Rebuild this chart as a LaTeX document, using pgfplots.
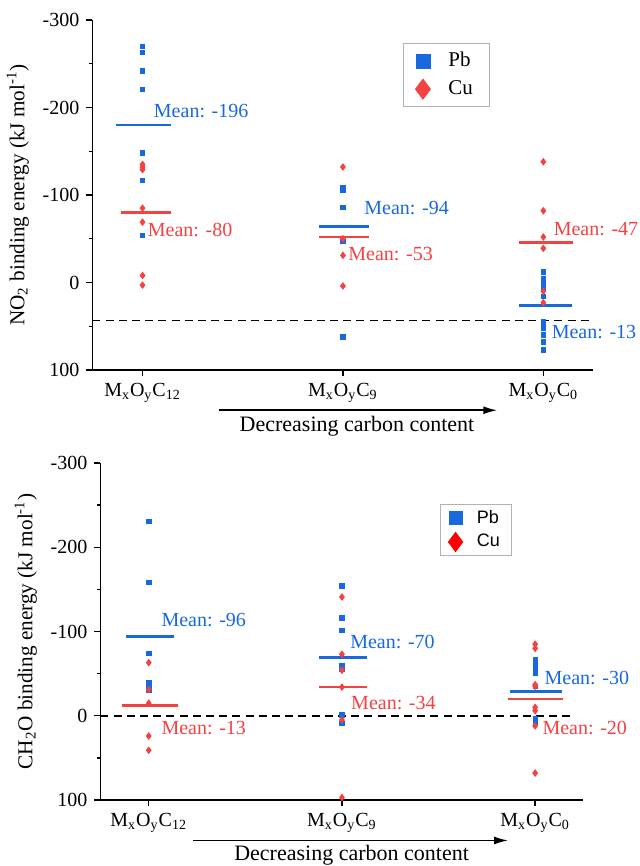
\documentclass[border=0pt]{standalone}
\usepackage{pgfplots}
\pgfplotsset{compat=1.18}
\usepackage{pgfplotstable}
\usepackage{fontspec}
\setmainfont{Liberation Serif}
\newfontfamily\legsans{Liberation Sans}
\usetikzlibrary{arrows.meta}

\definecolor{pbblue}{RGB}{24,104,222}
\definecolor{cured}{RGB}{243,66,66}

% NO2 panel
\pgfplotstableread{
x y
1 -270
1 -263
1 -242
1 -221
1 -148
1 -117
1 -54
2 -108
2 -105
2 -86
2 -47
2 62
3 -12
3 -4
3 2
3 8
3 16
3 45
3 52
3 60
3 68
3 77
}\noPb
\pgfplotstableread{
x y
1 -135
1 -132
1 -129
1 -85
1 -69
1 -8
1 3
2 -132
2 -50
2 -31
2 4
3 -138
3 -82
3 -52
3 -39
3 10
3 23
}\noCu
% CH2O panel
\pgfplotstableread{
x y
1 -231
1 -158
1 -74
1 -39
1 -36
1 -30
2 -154
2 -116
2 -101
2 -59
2 -55
2 -1
2 9
3 -67
3 -62
3 -57
3 -51
3 -35
3 3
3 8
}\chPb
\pgfplotstableread{
x y
1 -63
1 -31
1 -15
1 24
1 41
2 -141
2 -73
2 -54
2 -34
2 5
2 97
3 -85
3 -80
3 -37
3 -35
3 -10
3 -6
3 12
3 68
}\chCu

\pgfplotsset{bind/.style={
  scale only axis,
  xmin=0.75, xmax=3.25, ymin=-300, ymax=100, y dir=reverse,
  axis x line*=bottom, axis y line*=left,
  xtick={1,2,3},
  xticklabels={M\textsubscript{x}O\textsubscript{y}C\textsubscript{12},
               M\textsubscript{x}O\textsubscript{y}C\textsubscript{9},
               M\textsubscript{x}O\textsubscript{y}C\textsubscript{0}},
  ytick={-300,-200,-100,0,100}, yticklabels={-300,-200,-100,0,100},
  minor ytick={-250,-150,-50,50},
  tick align=outside, major tick length=3pt, minor tick length=1.6pt,
  tick style={black, line width=0.65pt},
  axis line style={line width=0.65pt},
  yticklabel style={font=\fontsize{10}{11}\selectfont},
  xticklabel style={font=\fontsize{10}{12}\selectfont},
  ylabel style={font=\fontsize{10.6}{12}\selectfont},
  clip=false,
  pbmark/.style={only marks, mark=square*, mark size=1.1pt, color=pbblue, forget plot},
  cumark/.style={only marks, mark=diamond*, mark size=1.6pt, color=cured, forget plot},
  pbline/.style={pbblue, line width=1.3pt, forget plot},
  culine/.style={cured, line width=1.3pt, forget plot},
  zeroline/.style={black, dash pattern=on 4pt off 2.6pt, line width=0.9pt, forget plot},
}}

\begin{document}
\begin{tikzpicture}
\path (0,0) (318pt,-433pt);

\begin{axis}[bind,
  at={(44.5pt,-185pt)}, anchor=south west,
  width=250.5pt, height=175pt,
  ylabel={NO\textsubscript{2} binding energy (kJ mol\textsuperscript{-1})},
  legend style={at={(0.62,0.935)}, anchor=north west, draw=black!30,
    font=\fontsize{10.5}{12}\selectfont, row sep=1.5pt,
    inner xsep=6pt, inner ysep=2.5pt,
    /tikz/every odd column/.append style={column sep=7pt}},
  legend cell align=left,
]
\addplot[pbmark] table {\noPb};
\addplot[cumark] table {\noCu};
\addplot[pbline] coordinates {(0.87,-180) (1.14,-180)};
\addplot[culine] coordinates {(0.89,-80) (1.14,-80)};
\addplot[pbline] coordinates {(1.88,-64) (2.13,-64)};
\addplot[culine] coordinates {(1.88,-52) (2.13,-52)};
\addplot[pbline] coordinates {(2.88,26) (3.145,26)};
\addplot[culine] coordinates {(2.88,-46) (3.15,-46)};
\addplot[zeroline] coordinates {(0.75,43.5) (3.23,43.5)};
\addlegendimage{only marks, mark=square*, mark size=3.5pt, color=pbblue}
\addlegendentry{Pb}
\addlegendimage{only marks, mark=diamond*, mark size=5pt, color=cured}
\addlegendentry{Cu}
\begin{scope}[font=\fontsize{10}{12}\selectfont]
\node[anchor=west, text=pbblue, inner sep=0pt] at (axis cs:1.055,-196) {Mean: -196};
\node[anchor=west, text=cured, inner sep=0pt] at (axis cs:1.025,-60) {Mean: -80};
\node[anchor=west, text=pbblue, inner sep=0pt] at (axis cs:2.105,-85) {Mean: -94};
\node[anchor=west, text=cured, inner sep=0pt] at (axis cs:2.025,-33) {Mean: -53};
\node[anchor=west, text=cured, inner sep=0pt] at (axis cs:3.05,-61) {Mean: -47};
\node[anchor=west, text=pbblue, inner sep=0pt] at (axis cs:3.04,57) {Mean: -13};
\end{scope}
\draw[-{Latex[length=7pt,width=4pt]}, line width=0.8pt] (axis cs:1.38,146) -- (axis cs:2.77,146);
\node[font=\fontsize{11}{13}\selectfont, inner sep=0pt] at (axis cs:2.07,164) {Decreasing carbon content};
\end{axis}

\begin{axis}[bind,
  at={(48.5pt,-400pt)}, anchor=south west,
  width=241.5pt, height=168.5pt,
  ylabel={CH\textsubscript{2}O binding energy (kJ mol\textsuperscript{-1})},
  legend style={at={(0.703,0.879)}, anchor=north west, draw=black!30,
    font=\legsans\fontsize{9}{10}\selectfont, row sep=0pt,
    inner xsep=4pt, inner ysep=1pt,
    /tikz/every odd column/.append style={column sep=5pt}},
  legend cell align=left,
]
\addplot[pbmark] table {\chPb};
\addplot[cumark] table {\chCu};
\addplot[pbline] coordinates {(0.88,-94) (1.13,-94)};
\addplot[culine] coordinates {(0.86,-12) (1.15,-12)};
\addplot[pbline] coordinates {(1.88,-69) (2.13,-69)};
\addplot[culine] coordinates {(1.88,-34) (2.13,-34)};
\addplot[pbline] coordinates {(2.87,-29) (3.14,-29)};
\addplot[culine] coordinates {(2.86,-20) (3.145,-20)};
\addplot[zeroline] coordinates {(0.75,0) (3.2,0)};
\addlegendimage{only marks, mark=square*, mark size=3.3pt, color=pbblue}
\addlegendentry{Pb}
\addlegendimage{only marks, mark=diamond*, mark size=4.8pt, color=red}
\addlegendentry{Cu}
\begin{scope}[font=\fontsize{10}{12}\selectfont]
\node[anchor=west, text=pbblue, inner sep=0pt] at (axis cs:1.064,-114) {Mean: -96};
\node[anchor=west, text=cured, inner sep=0pt] at (axis cs:1.064,15) {Mean: -13};
\node[anchor=west, text=pbblue, inner sep=0pt] at (axis cs:2.041,-87) {Mean: -70};
\node[anchor=west, text=cured, inner sep=0pt] at (axis cs:2.046,-15) {Mean: -34};
\node[anchor=west, text=pbblue, inner sep=0pt] at (axis cs:3.047,-45) {Mean: -30};
\node[anchor=west, text=cured, inner sep=0pt] at (axis cs:3.036,14) {Mean: -20};
\end{scope}
\draw[-{Latex[length=7pt,width=4pt]}, line width=0.8pt] (axis cs:1.23,148) -- (axis cs:2.86,148);
\node[font=\fontsize{11}{13}\selectfont, inner sep=0pt] at (axis cs:2.05,165) {Decreasing carbon content};
\end{axis}
\end{tikzpicture}
\end{document}
